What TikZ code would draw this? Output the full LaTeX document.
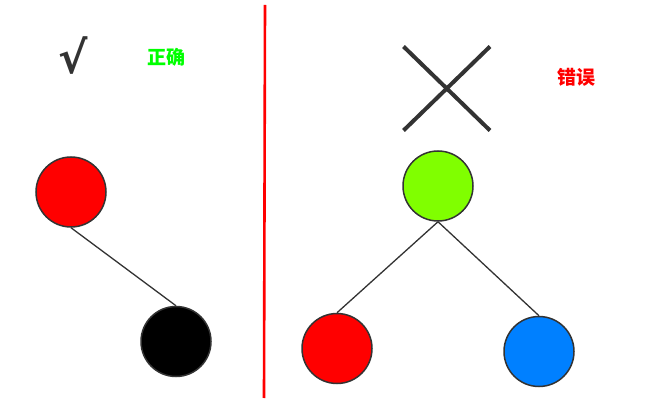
\documentclass[tikz,border=0pt]{standalone}
\usepackage{fontspec}
\newfontfamily\cjk{Noto Sans CJK SC}
\newfontfamily\symb{DejaVu Sans}
\definecolor{edge}{HTML}{333333}
\definecolor{lime}{HTML}{80FF00}
\definecolor{azure}{HTML}{0080FF}
\definecolor{okgreen}{HTML}{00FF00}
\tikzset{
	vertex/.style={circle, draw=edge, line width=1.5pt, minimum size=70pt, inner sep=0pt},
	link/.style={draw=edge, line width=1.3pt}
}

\begin{document}
\begin{tikzpicture}[x=1pt,y=-1pt]
	\useasboundingbox (0,0) rectangle (667,406);
	\def \rad{ 35 };
	% left: correct
	\node[font=\symb\bfseries\fontsize{44}{44}\selectfont, text=edge] (ok) at (73,56) {√};
	\node[font=\cjk\bfseries\fontsize{19}{19}\selectfont, text=okgreen] (oktext) at (166,57) {正确};
	\node[vertex, fill=red] (0) at (71,192) {};
	\node[vertex, fill=black] (1) at (176,341.5) {};
	\draw[link] (0.south) -- (1.north);

	% divider
	\draw[red, line width=2.6pt] (265,5) -- (264,398);

	% right: wrong
	\draw[edge, line width=4pt] (403.5,46.5) -- (490,130.5);
	\draw[edge, line width=4pt] (403.5,130.5) -- (490,46.5);
	\node[font=\cjk\bfseries\fontsize{19}{19}\selectfont, text=red] (notext) at (576,77) {错误};
	\node[vertex, fill=lime] (2) at (438,186) {};
	\node[vertex, fill=red] (3) at (337,348.5) {};
	\node[vertex, fill=azure] (4) at (539,351.5) {};
	\draw[link] (2.south) -- (3.north);
	\draw[link] (2.south) -- (4.north);
\end{tikzpicture}
\end{document}
